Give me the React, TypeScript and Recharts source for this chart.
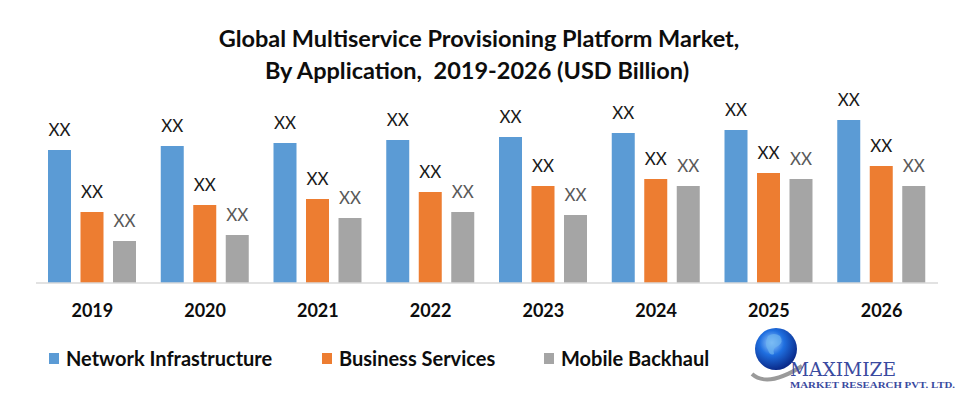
import React from 'react';
import { BarChart, Bar, XAxis, YAxis, Legend, LabelList } from 'recharts';

// years along the x axis
const years = ['2019', '2020', '2021', '2022', '2023', '2024', '2025', '2026'];

const networkInfrastructure = [133, 137, 140, 143, 146, 150, 153, 163];
const businessServices = [71, 78, 84, 91, 97, 104, 110, 117];
const mobileBackhaul = [42, 48, 65, 71, 68, 97, 104, 97];

// every bar is labelled with a placeholder instead of a number
const valueLabel = 'XX';

const seriesNames = ['Network Infrastructure', 'Business Services', 'Mobile Backhaul'];
const seriesColors = ['#5B9BD5', '#ED7D31', '#A5A5A5'];

const data = years.map((year, i) => ({
    year,
    network: networkInfrastructure[i],
    business: businessServices[i],
    mobile: mobileBackhaul[i],
}));

const FONT = 'Lato, "Open Sans", sans-serif';

const makeLabel = (color: string) => (props: any) => {
    const { x, y, width } = props;
    return (
        <text
            x={Number(x) + Number(width) / 2}
            y={Number(y) - 14}
            textAnchor="middle"
            fontFamily={FONT}
            fontSize={17}
            fill={color}
        >
            {valueLabel}
        </text>
    );
};

const YearTick = (props: any) => {
    const { x, y, payload } = props;
    return (
        <text
            x={x}
            y={y + 26}
            textAnchor="middle"
            fontFamily={FONT}
            fontWeight={700}
            fontSize={18}
            fill="#0d0d0d"
        >
            {payload.value}
        </text>
    );
};

// legend items placed where the reference has them
const legendX = [49, 322, 544];

const CustomLegend = () => (
    <div style={{ position: 'relative', width: 958, height: 30 }}>
        {seriesNames.map((name, i) => (
            <div key={name}>
                <div
                    style={{
                        position: 'absolute',
                        left: legendX[i],
                        top: 9,
                        width: 10,
                        height: 11,
                        background: seriesColors[i],
                    }}
                />
                <div
                    style={{
                        position: 'absolute',
                        left: legendX[i] + 17,
                        top: 2,
                        fontFamily: FONT,
                        fontWeight: 700,
                        fontSize: 20,
                        lineHeight: '24px',
                        color: '#0d0d0d',
                        whiteSpace: 'nowrap',
                    }}
                >
                    {name}
                </div>
            </div>
        ))}
    </div>
);

const Logo = () => (
    <svg
        width={210}
        height={70}
        style={{ position: 'absolute', left: 748, top: 324 }}
    >
        <defs>
            <radialGradient id="globe" cx="40%" cy="35%" r="65%">
                <stop offset="0%" stopColor="#9fd0ff" />
                <stop offset="45%" stopColor="#1f6fe0" />
                <stop offset="100%" stopColor="#0a2a8a" />
            </radialGradient>
        </defs>
        <path d="M4 50 Q 20 64 54 42" stroke="#9a9a9a" strokeWidth={4} fill="none" />
        <circle cx={28} cy={25} r={21} fill="url(#globe)" />
        <path
            d="M20 12 q6 -4 12 0 q4 6 -2 10 q-6 2 -4 8 q-4 2 -6 -4 q-4 -6 0 -14z"
            fill="#6cb4f0"
            opacity={0.7}
        />
        <text
            x={42}
            y={52}
            fontFamily='"DejaVu Serif", "Liberation Serif", serif'
            fontSize={18}
            fill="#3a4aa0"
            textLength={106}
            lengthAdjust="spacingAndGlyphs"
        >
            MAXIMIZE
        </text>
        <text
            x={42}
            y={64}
            fontFamily='"Liberation Serif", serif'
            fontWeight={700}
            fontSize={9}
            fill="#3a4aa0"
            textLength={165}
            lengthAdjust="spacingAndGlyphs"
        >
            MARKET RESEARCH PVT. LTD.
        </text>
    </svg>
);

export default function App() {
    return (
        <div
            style={{
                position: 'absolute',
                left: 0,
                top: 0,
                width: 958,
                height: 394,
                background: '#ffffff',
                overflow: 'hidden',
            }}
        >
            <div
                style={{
                    position: 'absolute',
                    left: 0,
                    top: 22,
                    width: 958,
                    textAlign: 'center',
                    fontFamily: FONT,
                    fontWeight: 700,
                    fontSize: 23.5,
                    lineHeight: '32px',
                    color: '#0d0d0d',
                }}
            >
                <div>Global Multiservice Provisioning Platform Market,</div>
                <div style={{ marginLeft: -4 }}>By Application,&nbsp; 2019-2026 (USD Billion)</div>
            </div>
            <BarChart
                width={958}
                height={394}
                data={data}
                margin={{ top: 103, right: 20, bottom: 51, left: 36 }}
                barSize={23}
                barGap={9.5}
                style={{ position: 'absolute', left: 0, top: 0 }}
            >
                <XAxis
                    dataKey="year"
                    height={30}
                    axisLine={{ stroke: '#D9D9D9', strokeWidth: 1.5 }}
                    tickLine={false}
                    tick={<YearTick />}
                    interval={0}
                />
                <YAxis hide domain={[0, 180]} width={0} />
                <Legend
                    verticalAlign="bottom"
                    wrapperStyle={{ position: 'absolute', left: 0, top: 344, width: 958 }}
                    content={<CustomLegend />}
                />
                <Bar dataKey="network" name={seriesNames[0]} fill={seriesColors[0]} isAnimationActive={false}>
                    <LabelList dataKey="network" content={makeLabel('#1a1a1a')} />
                </Bar>
                <Bar dataKey="business" name={seriesNames[1]} fill={seriesColors[1]} isAnimationActive={false}>
                    <LabelList dataKey="business" content={makeLabel('#1a1a1a')} />
                </Bar>
                <Bar dataKey="mobile" name={seriesNames[2]} fill={seriesColors[2]} isAnimationActive={false}>
                    <LabelList dataKey="mobile" content={makeLabel('#595959')} />
                </Bar>
            </BarChart>
            <Logo />
        </div>
    );
}
